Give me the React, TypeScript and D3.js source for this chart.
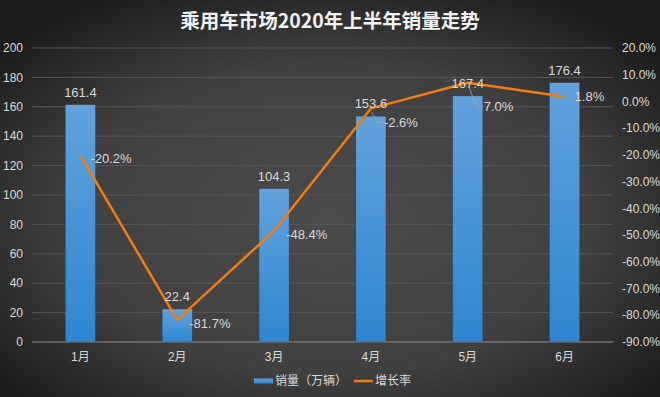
import React from 'react';
import * as d3 from 'd3';

const months = ['1月', '2月', '3月', '4月', '5月', '6月'];
const sales = [161.4, 22.4, 104.3, 153.6, 167.4, 176.4];
const growth = [-20.2, -81.7, -48.4, -2.6, 7.0, 1.8];
const leftTicks = [0, 20, 40, 60, 80, 100, 120, 140, 160, 180, 200];
const rightTicks = [20, 10, 0, -10, -20, -30, -40, -50, -60, -70, -80, -90];

// label offsets for growth labels [dx, dy] and whether a leader line is drawn
const growthLabelOffset: [number, number, boolean][] = [
  [10, 3, false],
  [12, 4, false],
  [12, 4, false],
  [13, 14, true],
  [16, 24, true],
  [10, 0, false],
];

const W = 660;
const H = 397;
const left = 32;
const right = 613;
const top = 48;
const bottom = 342;

const App: React.FC = () => {
  const x = d3.scaleBand<string>().domain(months).range([left, right]).paddingInner(0.69).paddingOuter(0.345);
  const y = d3.scaleLinear().domain([0, 200]).range([bottom, top]);
  const y2 = d3.scaleLinear().domain([-90, 20]).range([bottom, top]);
  const cx = (m: string) => (x(m) as number) + x.bandwidth() / 2;

  const line = d3.line<number>()
    .x((_, i) => cx(months[i]))
    .y(d => y2(d));

  const font = '"Liberation Sans", Arial, "Noto Sans CJK SC", sans-serif';
  const txt = '#d9d9d9';

  return (
    <svg width={W} height={H} style={{ position: 'absolute', left: 0, top: 0, display: 'block' }} fontFamily={font}>
      <defs>
        <radialGradient id="bg" cx="50%" cy="55%" r="65%">
          <stop offset="0%" stopColor="#4b4b4b" />
          <stop offset="60%" stopColor="#404040" />
          <stop offset="100%" stopColor="#1c1c1c" />
        </radialGradient>
        <linearGradient id="bar" x1="0" y1="0" x2="0" y2="1">
          <stop offset="0%" stopColor="#62a2dd" />
          <stop offset="100%" stopColor="#2e86d0" />
        </linearGradient>
      </defs>
      <rect width={W} height={H} fill="url(#bg)" />

      <text x={330} y={28} textAnchor="middle" fill="#f2f2f2" fontSize={19.5} fontWeight="bold"
        fontFamily='"Noto Sans CJK SC", sans-serif'>
        乘用车市场2020年上半年销量走势
      </text>

      {leftTicks.map(t => (
        <g key={t}>
          <line x1={left} x2={right} y1={y(t)} y2={y(t)} stroke={t === 0 ? '#8c8c8c' : '#575757'} strokeWidth={1} />
          <text x={23} y={y(t)} dy="0.35em" textAnchor="end" fill={txt} fontSize={12}>{t}</text>
        </g>
      ))}
      {rightTicks.map(t => (
        <text key={t} x={622} y={y2(t)} dy="0.35em" textAnchor="start" fill={txt} fontSize={12}>
          {t.toFixed(1) + '%'}
        </text>
      ))}

      {sales.map((v, i) => (
        <rect key={i} x={x(months[i])} y={y(v)} width={x.bandwidth()} height={bottom - y(v)}
          fill="url(#bar)" stroke="#2a2a2a" strokeOpacity={0.4} strokeWidth={0.5} />
      ))}

      {months.map(m => (
        <text key={m} x={cx(m)} y={357} dy="0.35em" textAnchor="middle" fill={txt} fontSize={12}>{m}</text>
      ))}

      <path d={line(growth) || ''} fill="none" stroke="#f47c0f" strokeWidth={2.5} strokeLinejoin="round" />

      {sales.map((v, i) => (
        <text key={i} x={cx(months[i])} y={y(v) - 8}
          textAnchor="middle" fill={txt} fontSize={13}>{v.toFixed(1)}</text>
      ))}

      {growth.map((g, i) => {
        const px = cx(months[i]);
        const py = y2(g);
        const [dx, dy, lead] = growthLabelOffset[i];
        return (
          <g key={i}>
            {lead && (
              <polyline points={`${px + 1},${py + 4} ${px + dx - 7},${py + dy} ${px + dx - 1},${py + dy}`}
                fill="none" stroke="#a6a6a6" strokeWidth={0.8} />
            )}
            <text x={px + dx} y={py + dy} dy="0.35em" textAnchor="start" fill={txt} fontSize={13}>
              {g.toFixed(1) + '%'}
            </text>
          </g>
        );
      })}

      <g transform="translate(254,381)">
        <rect x={0} y={-2.5} width={19} height={5} fill="url(#bar)" />
        <text x={21} y={0} dy="0.35em" fill={txt} fontSize={12} fontFamily='"Noto Sans CJK SC", sans-serif'>销量（万辆）</text>
      </g>
      <g transform="translate(354,381)">
        <line x1={0} x2={19} y1={0} y2={0} stroke="#f47c0f" strokeWidth={2.5} />
        <text x={21} y={0} dy="0.35em" fill={txt} fontSize={12} fontFamily='"Noto Sans CJK SC", sans-serif'>增长率</text>
      </g>
    </svg>
  );
};

export default App;
